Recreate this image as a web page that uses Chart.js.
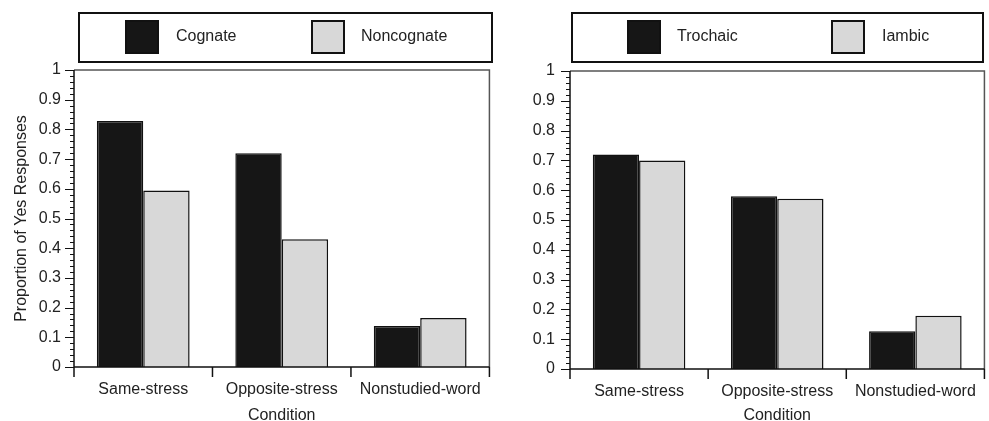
<!DOCTYPE html>
<html>
<head>
<meta charset="utf-8">
<script src="https://cdn.jsdelivr.net/npm/chart.js@4.4.0/dist/chart.umd.min.js"></script>
<style>
  body { margin: 0; background: #fff; }
  canvas { position: absolute; top: 0; }
  #left { left: 0; }
  #right { left: 494px; }
</style>
</head>
<body>
<canvas id="left" width="494" height="421"></canvas>
<canvas id="right" width="495" height="421"></canvas>
<script>
const categories = ['Same-stress', 'Opposite-stress', 'Nonstudied-word'];
const cognate = [0.828, 0.72, 0.138];
const noncognate = [0.594, 0.43, 0.165];
const trochaic = [0.72, 0.58, 0.127];
const iambic = [0.70, 0.571, 0.179];
const leftNames = ['Cognate', 'Noncognate'];
const rightNames = ['Trochaic', 'Iambic'];

const FONT = "'Liberation Sans', Arial, sans-serif";
const DARK = '#161616';
const LIGHT = '#d8d8d8';

// frame, tick marks and the boxed legend
const decor = {
    id: 'decor',
    afterDraw(chart, args, opts) {
        const ctx = chart.ctx;
        const a = chart.chartArea;
        const y = chart.scales.y;
        ctx.save();
        // top and right frame
        ctx.strokeStyle = '#555';
        ctx.lineWidth = 1.5;
        ctx.beginPath();
        ctx.moveTo(a.left, a.top);
        ctx.lineTo(a.right, a.top);
        ctx.lineTo(a.right, a.bottom);
        ctx.stroke();
        // axes
        ctx.strokeStyle = '#111';
        ctx.beginPath();
        ctx.moveTo(a.left, a.top);
        ctx.lineTo(a.left, a.bottom);
        ctx.lineTo(a.right, a.bottom);
        ctx.stroke();
        // y ticks, minor every 0.02
        ctx.lineWidth = 1;
        for (let i = 0; i <= 50; i++) {
            const py = Math.round(y.getPixelForValue(i / 50)) + 0.5;
            const len = i % 5 === 0 ? 9 : 4;
            ctx.beginPath();
            ctx.moveTo(a.left - len, py);
            ctx.lineTo(a.left, py);
            ctx.stroke();
        }
        // x ticks between categories
        const step = (a.right - a.left) / categories.length;
        ctx.lineWidth = 1.5;
        for (let i = 0; i <= categories.length; i++) {
            const px = a.left + step * i;
            ctx.beginPath();
            ctx.moveTo(px, a.bottom);
            ctx.lineTo(px, a.bottom + 10);
            ctx.stroke();
        }
        // legend
        const lg = opts.legend;
        ctx.lineWidth = 2;
        ctx.strokeStyle = '#111';
        ctx.strokeRect(lg.left, lg.top, lg.width, lg.height);
        ctx.font = '16px ' + FONT;
        ctx.textBaseline = 'middle';
        chart.data.datasets.forEach((ds, i) => {
            const sx = lg.left + lg.swatch[i];
            ctx.fillStyle = ds.backgroundColor;
            ctx.fillRect(sx, lg.top + 7, 34, 34);
            ctx.lineWidth = 2;
            ctx.strokeRect(sx + 1, lg.top + 8, 32, 32);
            ctx.fillStyle = '#222';
            ctx.fillText(ds.label, lg.left + lg.text[i], lg.top + 24);
        });
        ctx.restore();
    }
};

function makeChart(id, a, b, names, cfg) {
    const ctx = document.getElementById(id).getContext('2d');
    return new Chart(ctx, {
        type: 'bar',
        data: {
            labels: categories,
            datasets: [
                { label: names[0], data: a, backgroundColor: DARK, borderColor: '#111', borderWidth: 1.5 },
                { label: names[1], data: b, backgroundColor: LIGHT, borderColor: '#111', borderWidth: 1.5 }
            ]
        },
        options: {
            responsive: false,
            animation: false,
            devicePixelRatio: 1,
            layout: { padding: { top: cfg.top, right: cfg.right, left: 0, bottom: 0 } },
            datasets: { bar: { categoryPercentage: 0.67, barPercentage: 1 } },
            plugins: {
                legend: { display: false },
                tooltip: { enabled: false },
                decor: { legend: cfg.legend }
            },
            scales: {
                x: {
                    grid: { display: false, drawTicks: false },
                    border: { display: false },
                    ticks: { color: '#222', font: { family: FONT, size: 16 }, padding: 13, maxRotation: 0 },
                    title: { display: true, text: 'Condition', color: '#222', font: { family: FONT, size: 16, lineHeight: 1 }, padding: { top: 0, bottom: -3 } },
                    afterFit: s => { s.height = cfg.xHeight; }
                },
                y: {
                    min: 0,
                    max: 1,
                    grid: { display: false, drawTicks: false },
                    border: { display: false },
                    ticks: {
                        stepSize: 0.1,
                        color: '#222',
                        font: { family: FONT, size: 16 },
                        padding: cfg.tickPad,
                        callback: v => String(Number(v.toFixed(1)))
                    },
                    title: { display: cfg.yTitle, text: 'Proportion of Yes Responses', color: '#222', font: { family: FONT, size: 16 }, padding: { top: 12, bottom: 0 } },
                    afterFit: s => { s.width = cfg.yWidth; }
                }
            }
        },
        plugins: [decor]
    });
}

makeChart('left', cognate, noncognate, leftNames, {
    top: 70, right: 2, xHeight: 54, yWidth: 74, tickPad: 13, yTitle: true,
    legend: { left: 79, top: 13, width: 413, height: 49, swatch: [46, 232], text: [97, 282] }
});
makeChart('right', trochaic, iambic, rightNames, {
    top: 71, right: 1, xHeight: 52, yWidth: 76, tickPad: 15, yTitle: false,
    legend: { left: 78, top: 13, width: 411, height: 49, swatch: [55, 259], text: [105, 310] }
});
</script>
</body>
</html>
